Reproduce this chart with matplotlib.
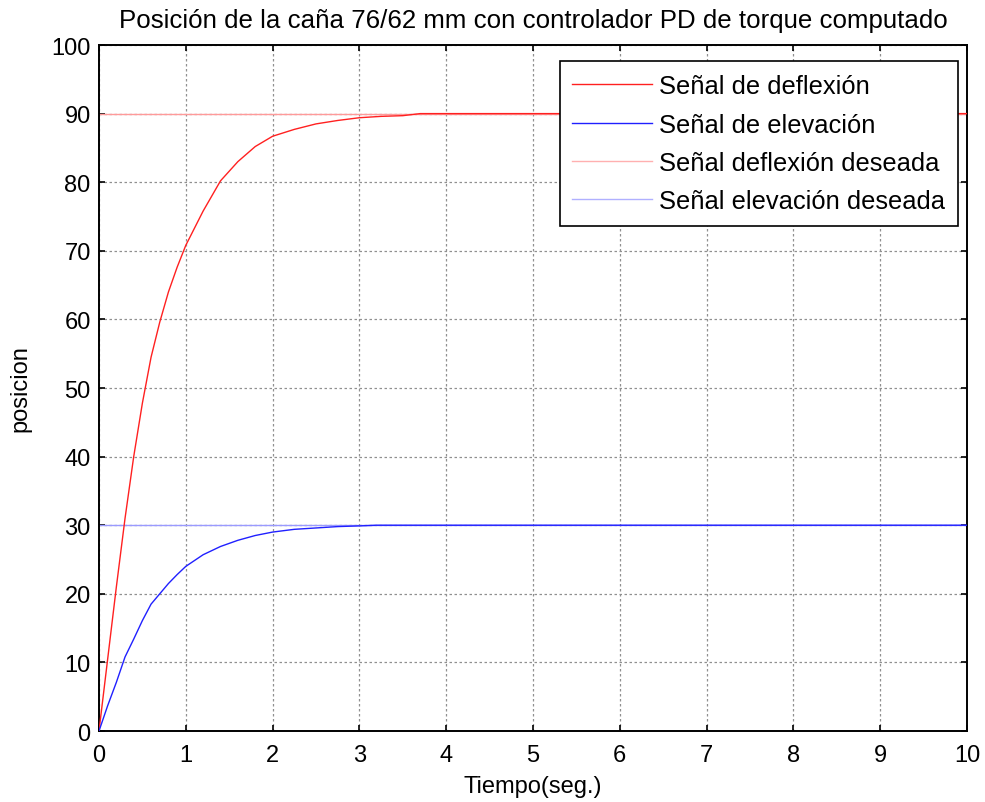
import matplotlib
matplotlib.use("Agg")
import matplotlib.pyplot as plt
import numpy as np

plt.rcParams['font.family'] = ['Liberation Sans', 'DejaVu Sans']

# values
t_deflexion = [0, 0.1, 0.2, 0.3, 0.4, 0.5, 0.6, 0.7, 0.8, 0.9, 1.0, 1.2, 1.4,
               1.6, 1.8, 2.0, 2.25, 2.5, 2.75, 3.0, 3.25, 3.5, 3.7, 10]
deflexion = [0, 10.5, 21, 31, 40, 47.8, 54.5, 59.6, 64, 67.6, 70.8, 75.8, 80.2,
             83, 85.2, 86.7, 87.7, 88.5, 89.0, 89.4, 89.6, 89.7, 90, 90]

t_elevacion = [0, 0.1, 0.2, 0.3, 0.4, 0.5, 0.6, 0.7, 0.8, 0.9, 1.0, 1.2, 1.4,
               1.6, 1.8, 2.0, 2.25, 2.5, 2.75, 3.0, 3.2, 10]
elevacion = [0, 3.7, 7.1, 10.8, 13.4, 16.1, 18.5, 20.0, 21.5, 22.8, 24.0, 25.7, 26.9,
             27.8, 28.5, 29.0, 29.4, 29.6, 29.8, 29.9, 30, 30]

t_ref = [0, 10]
deflexion_deseada = [90, 90]
elevacion_deseada = [30, 30]

fig = plt.figure(figsize=(9.85, 8.03), dpi=100)
ax = fig.add_axes([0.1005, 0.0884, 0.8812, 0.8543])

ax.plot(t_ref, deflexion_deseada, color='#ff9a9a', lw=1.0, zorder=2)
ax.plot(t_ref, elevacion_deseada, color='#9a9aff', lw=1.0, zorder=2)
l1, = ax.plot(t_deflexion, deflexion, color='#ff2020', lw=1.0, zorder=3)
l2, = ax.plot(t_elevacion, elevacion, color='#2020ff', lw=1.0, zorder=3)
l3, = ax.plot([], [], color='#ffb0b0', lw=1.0)
l4, = ax.plot([], [], color='#b0b0ff', lw=1.0)

ax.set_xlim(0, 10)
ax.set_ylim(0, 100)
ax.set_xticks(np.arange(0, 11, 1))
ax.set_yticks(np.arange(0, 101, 10))
ax.grid(True, color='#909090', linestyle=(0, (2, 2)), linewidth=0.9)
ax.tick_params(direction='in', length=4, width=1.2, top=True, right=True,
               labelsize=17)
ax.tick_params(axis='x', pad=9)
ax.tick_params(axis='y', pad=6)
for s in ax.spines.values():
    s.set_linewidth(1.4)

ax.set_title('Posición de la caña 76/62 mm con controlador PD de torque computado',
             fontsize=18.6, pad=13)
ax.set_xlabel('Tiempo(seg.)', fontsize=17, labelpad=7)
ax.set_ylabel('posicion', fontsize=17, labelpad=14)

leg = ax.legend([l1, l2, l3, l4],
                ['Señal de deflexión', 'Señal de elevación',
                 'Señal deflexión deseada', 'Señal elevación deseada'],
                loc='upper right', bbox_to_anchor=(0.9896, 0.976), borderaxespad=0,
                fontsize=18.4, fancybox=False, framealpha=1, edgecolor='black',
                handlelength=3.1, handletextpad=0.3, labelspacing=0.56,
                borderpad=0.5)
leg.get_frame().set_linewidth(1.2)

fig.savefig('out.png', dpi=100)
